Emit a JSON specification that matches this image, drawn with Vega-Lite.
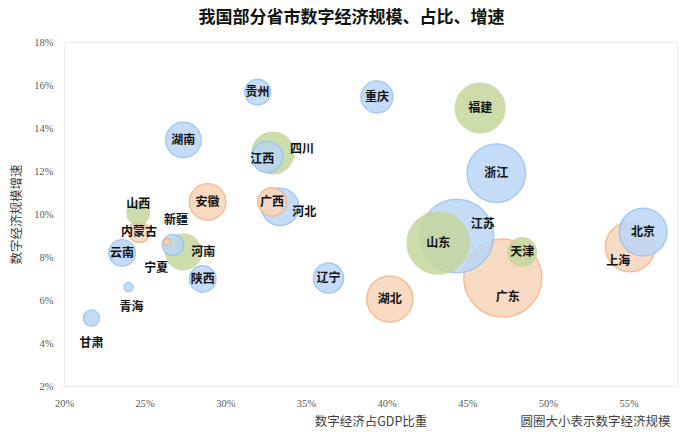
{
  "$schema": "https://vega.github.io/schema/vega-lite/v6.json",
  "width": 613,
  "height": 344,
  "autosize": {"type": "none"},
  "padding": {"left": 64, "top": 42, "right": 18, "bottom": 48},
  "background": "white",
  "title": {"text": "我国部分省市数字经济规模、占比、增速", "font": "Noto Sans CJK SC", "fontSize": 17, "fontWeight": "bold", "color": "#111111", "anchor": "middle", "offset": 10, "dx": -19},
  "config": {
    "view": {"stroke": "#ececec"},
    "axis": {"grid": false, "domain": false, "ticks": false, "labelFlush": false, "labelFont": "Liberation Sans Narrow", "labelFontSize": 10.5, "labelColor": "#595959", "titleFont": "Noto Sans CJK SC", "titleFontWeight": "normal", "titleFontSize": 12.5, "titleColor": "#404040"},
    "text": {"font": "Noto Sans CJK SC", "fontWeight": "bold", "fontSize": 12, "color": "#111111"}
  },
  "data": {"values": [
    {"name": "广东", "share": 0.472, "growth": 0.0702, "scale": 4.5, "group": "B"},
    {"name": "江苏", "share": 0.4435, "growth": 0.0898, "scale": 4.0, "group": "A"},
    {"name": "山东", "share": 0.432, "growth": 0.0865, "scale": 2.85, "group": "C"},
    {"name": "天津", "share": 0.484, "growth": 0.0823, "scale": 0.6, "group": "C"},
    {"name": "上海", "share": 0.551, "growth": 0.0847, "scale": 1.82, "group": "B"},
    {"name": "北京", "share": 0.559, "growth": 0.0916, "scale": 1.69, "group": "A"},
    {"name": "浙江", "share": 0.468, "growth": 0.119, "scale": 2.53, "group": "A"},
    {"name": "福建", "share": 0.458, "growth": 0.1493, "scale": 1.82, "group": "C"},
    {"name": "湖北", "share": 0.402, "growth": 0.0605, "scale": 1.57, "group": "B"},
    {"name": "重庆", "share": 0.394, "growth": 0.1544, "scale": 0.75, "group": "A"},
    {"name": "四川", "share": 0.3295, "growth": 0.1284, "scale": 1.28, "group": "C"},
    {"name": "江西", "share": 0.326, "growth": 0.1265, "scale": 0.71, "group": "A"},
    {"name": "河北", "share": 0.334, "growth": 0.1033, "scale": 1.03, "group": "A"},
    {"name": "广西", "share": 0.329, "growth": 0.1056, "scale": 0.6, "group": "B"},
    {"name": "贵州", "share": 0.32, "growth": 0.1567, "scale": 0.49, "group": "A"},
    {"name": "湖南", "share": 0.274, "growth": 0.1344, "scale": 0.93, "group": "A"},
    {"name": "安徽", "share": 0.289, "growth": 0.1056, "scale": 0.98, "group": "B"},
    {"name": "河南", "share": 0.274, "growth": 0.0823, "scale": 0.93, "group": "C"},
    {"name": "新疆", "share": 0.2675, "growth": 0.0856, "scale": 0.33, "group": "A"},
    {"name": "宁夏", "share": 0.264, "growth": 0.087, "scale": 0.03, "group": "B"},
    {"name": "陕西", "share": 0.286, "growth": 0.0698, "scale": 0.52, "group": "A"},
    {"name": "内蒙古", "share": 0.2465, "growth": 0.0916, "scale": 0.33, "group": "B"},
    {"name": "山西", "share": 0.246, "growth": 0.1005, "scale": 0.375, "group": "C"},
    {"name": "云南", "share": 0.236, "growth": 0.0819, "scale": 0.52, "group": "A"},
    {"name": "青海", "share": 0.24, "growth": 0.066, "scale": 0.06, "group": "A"},
    {"name": "甘肃", "share": 0.217, "growth": 0.0516, "scale": 0.19, "group": "A"},
    {"name": "辽宁", "share": 0.364, "growth": 0.0702, "scale": 0.67, "group": "A"}
  ]},
  "encoding": {
    "y": {"field": "growth", "type": "quantitative", "scale": {"domain": [0.02, 0.18], "nice": false, "zero": false},
      "axis": {"values": [0.02, 0.04, 0.06, 0.08, 0.1, 0.12, 0.14, 0.16, 0.18], "format": ".0%", "labelPadding": 11, "title": "数字经济规模增速", "titlePadding": 10}}
  },
  "resolve": {"axis": {"x": "independent"}},
  "layer": [
    {
      "mark": {"type": "point", "filled": true, "shape": "circle", "opacity": 0.85, "strokeWidth": 1.5},
      "encoding": {
        "x": {"field": "share", "type": "quantitative", "scale": {"domain": [0.2, 0.58], "nice": false, "zero": false},
          "axis": {"orient": "bottom", "values": [0.2, 0.25, 0.3, 0.35, 0.4, 0.45, 0.5, 0.55], "format": ".0%", "labelPadding": 12, "title": "数字经济占GDP比重", "titleY": 35, "titleBaseline": "middle"}},
        "size": {"field": "scale", "type": "quantitative", "scale": {"domain": [0, 4.5], "range": [0, 6082]}, "legend": null},
        "fill": {"field": "group", "type": "nominal", "scale": {"domain": ["A", "B", "C"], "range": ["#bad6f6", "#f8d5ba", "#c4d69d"]}, "legend": null},
        "stroke": {"field": "group", "type": "nominal", "scale": {"domain": ["A", "B", "C"], "range": ["#99c1ee", "#f3b386", "#c4d69d"]}, "legend": null}
      }
    },
    {
      "transform": [{"filter": {"field": "name", "oneOf": ["北京", "山东", "天津", "浙江", "福建", "湖北", "重庆", "贵州", "广西", "内蒙古", "云南", "陕西", "安徽", "湖南", "辽宁"]}}],
      "mark": {"type": "text"},
      "encoding": {
        "x": {"field": "share", "type": "quantitative", "axis": {"orient": "bottom", "labels": false, "title": "圆圈大小表示数字经济规模", "titleX": 531, "titleY": 35, "titleAlign": "center", "titleBaseline": "middle"}},
        "text": {"field": "name"}
      }
    },
    {"transform": [{"filter": {"field": "name", "equal": "江西"}}], "mark": {"type": "text", "dx": -5, "dy": 2},
      "encoding": {"x": {"field": "share", "type": "quantitative", "axis": null}, "text": {"field": "name"}}},
    {"transform": [{"filter": {"field": "name", "equal": "四川"}}], "mark": {"type": "text", "dx": 29, "dy": -4},
      "encoding": {"x": {"field": "share", "type": "quantitative", "axis": null}, "text": {"field": "name"}}},
    {"transform": [{"filter": {"field": "name", "equal": "江苏"}}], "mark": {"type": "text", "dx": 26, "dy": -12},
      "encoding": {"x": {"field": "share", "type": "quantitative", "axis": null}, "text": {"field": "name"}}},
    {"transform": [{"filter": {"field": "name", "equal": "河北"}}], "mark": {"type": "text", "dx": 24, "dy": 5},
      "encoding": {"x": {"field": "share", "type": "quantitative", "axis": null}, "text": {"field": "name"}}},
    {"transform": [{"filter": {"field": "name", "equal": "河南"}}], "mark": {"type": "text", "dx": 20, "dy": 0},
      "encoding": {"x": {"field": "share", "type": "quantitative", "axis": null}, "text": {"field": "name"}}},
    {"transform": [{"filter": {"field": "name", "equal": "上海"}}], "mark": {"type": "text", "dx": -12, "dy": 14},
      "encoding": {"x": {"field": "share", "type": "quantitative", "axis": null}, "text": {"field": "name"}}},
    {"transform": [{"filter": {"field": "name", "equal": "广东"}}], "mark": {"type": "text", "dx": 5, "dy": 19},
      "encoding": {"x": {"field": "share", "type": "quantitative", "axis": null}, "text": {"field": "name"}}},
    {"transform": [{"filter": {"field": "name", "equal": "山西"}}], "mark": {"type": "text", "dx": 0, "dy": -9},
      "encoding": {"x": {"field": "share", "type": "quantitative", "axis": null}, "text": {"field": "name"}}},
    {"transform": [{"filter": {"field": "name", "equal": "新疆"}}], "mark": {"type": "text", "dx": 3, "dy": -25},
      "encoding": {"x": {"field": "share", "type": "quantitative", "axis": null}, "text": {"field": "name"}}},
    {"transform": [{"filter": {"field": "name", "equal": "宁夏"}}], "mark": {"type": "text", "dx": -11, "dy": 26},
      "encoding": {"x": {"field": "share", "type": "quantitative", "axis": null}, "text": {"field": "name"}}},
    {"transform": [{"filter": {"field": "name", "equal": "青海"}}], "mark": {"type": "text", "dx": 3, "dy": 20},
      "encoding": {"x": {"field": "share", "type": "quantitative", "axis": null}, "text": {"field": "name"}}},
    {"transform": [{"filter": {"field": "name", "equal": "甘肃"}}], "mark": {"type": "text", "dx": 0, "dy": 25},
      "encoding": {"x": {"field": "share", "type": "quantitative", "axis": null}, "text": {"field": "name"}}}
  ]
}
